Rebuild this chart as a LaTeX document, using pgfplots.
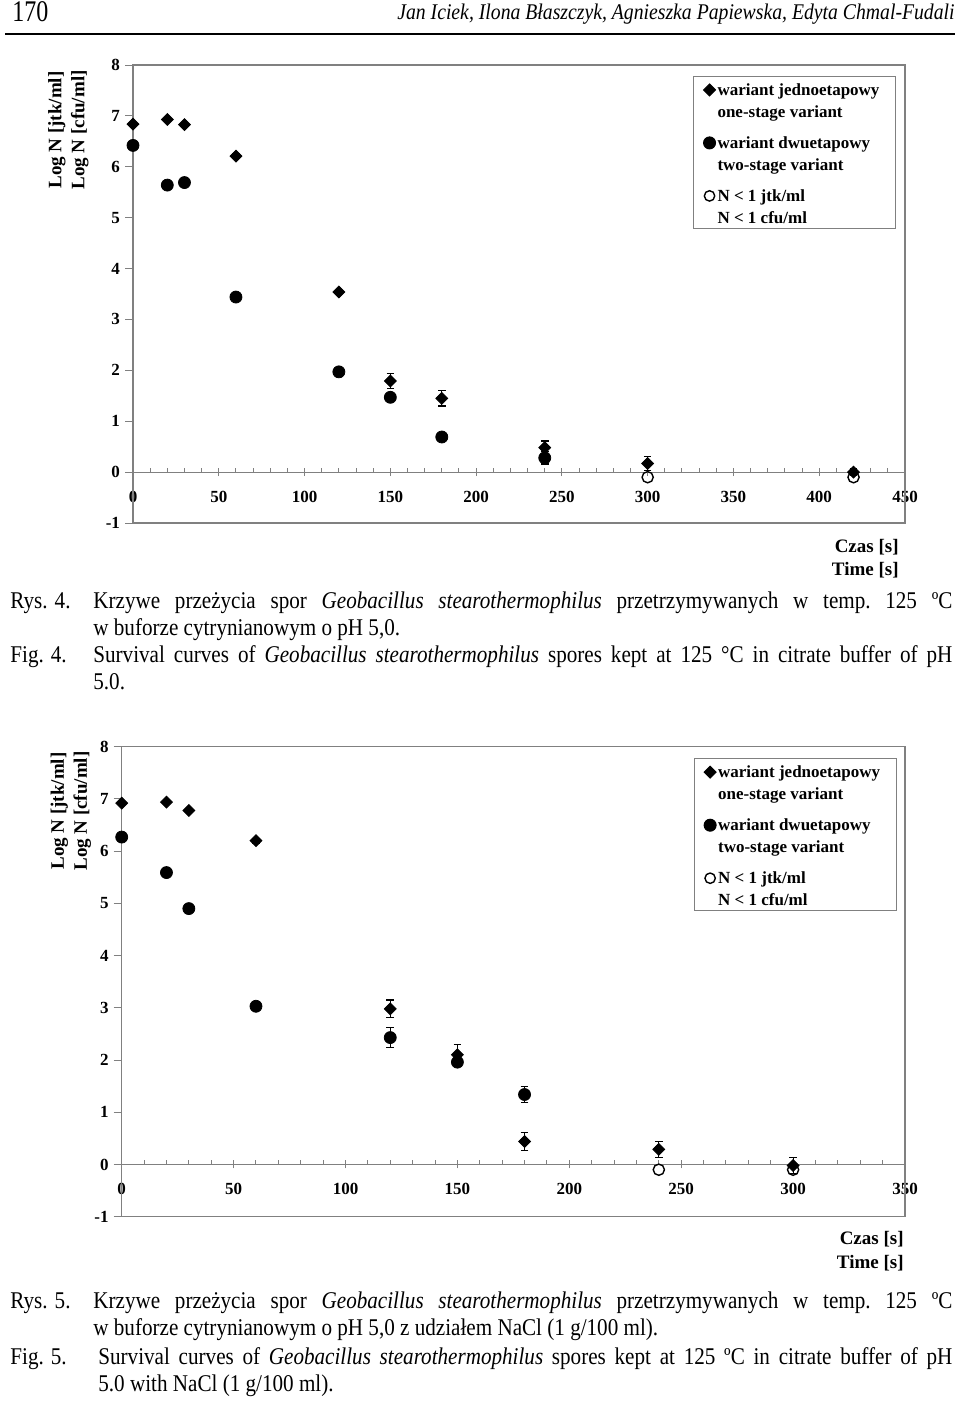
\documentclass[border=0pt]{standalone}
\usepackage{fontspec}
\setmainfont{Liberation Serif}
\newfontfamily\capfont[FakeStretch=0.88]{Liberation Serif}
\newfontfamily\numfont[FakeStretch=0.8]{Liberation Serif}
\usepackage{pgfplots}
\usepackage{pgfplotstable}
\pgfplotsset{compat=1.18}

% ---------- data (Fig. 4) ----------
\pgfplotstableread{
x y e
0 6.84 0
20 6.93 0
30 6.83 0
60 6.21 0.04
120 3.54 0
150 1.79 0.15
180 1.45 0.15
240 0.48 0.13
300 0.17 0.14
420 0.00 0.06
}\oneA
\pgfplotstableread{
x y e
0 6.42 0
20 5.64 0
30 5.69 0
60 3.44 0
120 1.97 0
150 1.47 0
180 0.69 0
240 0.28 0.12
}\twoA
\pgfplotstableread{
x y
300 -0.1
420 -0.1
}\openA
% ---------- data (Fig. 5) ----------
\pgfplotstableread{
x y e
0 6.92 0
20 6.94 0
30 6.78 0
60 6.20 0.05
120 2.98 0.17
150 2.10 0.20
180 0.44 0.17
240 0.29 0.15
300 -0.02 0.15
}\oneB
\pgfplotstableread{
x y e
0 6.27 0
20 5.59 0
30 4.90 0
60 3.03 0.05
120 2.43 0.19
150 1.96 0.05
180 1.34 0.15
}\twoB
\pgfplotstableread{
x y
240 -0.1
300 -0.1
}\openB

\pgfplotsset{
  surv/.style={
    scale only axis,
    axis x line=middle, axis y line=left,
    axis line style={-, draw=gray, line width=0.6pt},
    ymin=-1, ymax=8, ytick={-1,0,...,8},
    hide obscured x ticks=false, hide obscured y ticks=false,
    tick style={gray, line width=0.5pt},
    major tick length=4pt, minor tick length=2pt,
    tick align=center,
    minor x tick num=4,
    y tick style={xshift=-2pt},
    minor x tick style={yshift=1pt},
    ticklabel style={font=\fontsize{8.5}{10}\selectfont\bfseries, black},
    /pgf/number format/assume math mode=true,
    xticklabel style={yshift=-4pt},
    yticklabel style={xshift=-1pt},
    clip=false,
    legend style={draw=gray, line width=0.5pt,
      font=\fontsize{8.5}{11}\selectfont\bfseries,
      cells={anchor=base west},
      nodes={inner sep=1pt, text depth=11.5pt, text height=7.5pt},
      inner xsep=5pt, inner ysep=1pt, row sep=5.5pt,
      at={(1,1)}, anchor=north east},
    legend image code/.code={\draw[##1,yshift=2.8pt] plot coordinates {(3pt,0pt)};},
  },
  dia/.style={only marks, black, mark=square*, mark size=2.1pt,
    mark options={rotate=45, fill=black, draw=black},
    error bars/.cd, y dir=both, y explicit,
    error bar style={black, line width=0.6pt},
    error mark options={rotate=90, mark size=1.9pt, black, line width=0.6pt}},
  circ/.style={only marks, black, mark=*, mark size=3pt,
    mark options={fill=black, draw=black},
    error bars/.cd, y dir=both, y explicit,
    error bar style={black, line width=0.6pt},
    error mark options={rotate=90, mark size=1.9pt, black, line width=0.6pt}},
  opn/.style={only marks, black, mark=o, mark size=2.8pt,
    mark options={draw=black, line width=0.7pt}},
}

\newcommand{\legA}{\begin{tabular}[t]{@{}l@{\hspace{2pt}}}wariant jednoetapowy\\one-stage variant\end{tabular}}
\newcommand{\legB}{\begin{tabular}[t]{@{}l@{\hspace{2pt}}}wariant dwuetapowy\\two-stage variant\end{tabular}}
\newcommand{\legC}{\begin{tabular}[t]{@{}l@{\hspace{2pt}}}N < 1 jtk/ml\\N < 1 cfu/ml\end{tabular}}

\begin{document}
\begin{tikzpicture}
\path[use as bounding box] (0,0) rectangle (480pt,-701pt);

% ---------------- Fig. 4 ----------------
\begin{axis}[surv, at={(66.5pt,-261.5pt)}, anchor=south west,
  width=386pt, height=229pt, xmin=0, xmax=450, xtick={0,50,...,450},
  legend style={xshift=-4.5pt, yshift=-5.5pt}]
  \draw[gray, line width=0.6pt] (rel axis cs:0,0) rectangle (rel axis cs:1,1);
  \addlegendimage{only marks, mark=square*, mark size=2.1pt, mark options={rotate=45, fill=black, draw=black}}
  \addlegendentry{\legA}
  \addlegendimage{only marks, mark=*, mark size=3pt, mark options={fill=black, draw=black}}
  \addlegendentry{\legB}
  \addlegendimage{only marks, mark=o, mark size=2.6pt, mark options={draw=black, line width=0.7pt}}
  \addlegendentry{\legC}
  \addplot[forget plot, dia] table[x=x, y=y, y error=e] {\oneA};
  \addplot[forget plot, circ] table[x=x, y=y, y error=e] {\twoA};
  \addplot[forget plot, opn] table[x=x, y=y] {\openA};
\end{axis}

% ---------------- Fig. 5 ----------------
\begin{axis}[surv, at={(60.85pt,-608.35pt)}, anchor=south west,
  width=391.65pt, height=235pt, xmin=0, xmax=350, xtick={0,50,...,350},
  legend style={xshift=-4.2pt, yshift=-5.8pt}]
  \draw[gray, line width=0.6pt] (rel axis cs:0,0) rectangle (rel axis cs:1,1);
  \addlegendimage{only marks, mark=square*, mark size=2.1pt, mark options={rotate=45, fill=black, draw=black}}
  \addlegendentry{\legA}
  \addlegendimage{only marks, mark=*, mark size=3pt, mark options={fill=black, draw=black}}
  \addlegendentry{\legB}
  \addlegendimage{only marks, mark=o, mark size=2.6pt, mark options={draw=black, line width=0.7pt}}
  \addlegendentry{\legC}
  \addplot[forget plot, dia] table[x=x, y=y, y error=e] {\oneB};
  \addplot[forget plot, circ] table[x=x, y=y, y error=e] {\twoB};
  \addplot[forget plot, opn] table[x=x, y=y] {\openB};
\end{axis}

\begin{scope}[x=0.5pt, y=-0.5pt]
  % header
  \node[anchor=base west, inner sep=0] at (12,22) {\numfont\fontsize{15}{17}\selectfont 170};
  \node[anchor=base east, inner sep=0] at (955,20) {\capfont\fontsize{11.2}{13}\selectfont\itshape Jan Iciek, Ilona Błaszczyk, Agnieszka Papiewska, Edyta Chmal-Fudali};
  \draw[line width=1.1pt] (5,34) -- (955,34);

  % y labels
  \node[rotate=90, align=center, inner sep=0, font=\fontsize{9.5}{11.5}\selectfont\bfseries] at (68.5,130) {Log N [jtk/ml]\\Log N [cfu/ml]};
  \node[rotate=90, align=center, inner sep=0, font=\fontsize{9.5}{11.5}\selectfont\bfseries] at (71,811) {Log N [jtk/ml]\\Log N [cfu/ml]};

  % x labels
  \node[anchor=base east, inner sep=0, font=\fontsize{9.5}{11}\selectfont\bfseries] at (899,552) {Czas [s]};
  \node[anchor=base east, inner sep=0, font=\fontsize{9.5}{11}\selectfont\bfseries] at (899,575) {Time [s]};
  \node[anchor=base east, inner sep=0, font=\fontsize{9.5}{11}\selectfont\bfseries] at (904,1244) {Czas [s]};
  \node[anchor=base east, inner sep=0, font=\fontsize{9.5}{11}\selectfont\bfseries] at (904,1268) {Time [s]};

  % captions Fig. 4
  \node[anchor=base west, inner sep=0] at (10,608) {\capfont\fontsize{12}{13.5}\selectfont Rys. 4.};
  \node[anchor=base west, inner sep=0] at (93,608) {\parbox[t]{429.5pt}{\capfont\fontsize{12}{13.5}\selectfont Krzywe przeżycia spor \textit{Geobacillus stearothermophilus} przetrzymywanych w temp.\ 125 ºC\linebreak w buforze cytrynianowym o pH 5,0.}};
  \node[anchor=base west, inner sep=0] at (10,662) {\capfont\fontsize{12}{13.5}\selectfont Fig. 4.};
  \node[anchor=base west, inner sep=0] at (93,662) {\parbox[t]{429.5pt}{\capfont\fontsize{12}{13.5}\selectfont Survival curves of \textit{Geobacillus stearothermophilus} spores kept at 125 °C in citrate buffer of pH\linebreak 5.0.}};

  % captions Fig. 5
  \node[anchor=base west, inner sep=0] at (10,1308) {\capfont\fontsize{12}{13.5}\selectfont Rys. 5.};
  \node[anchor=base west, inner sep=0] at (93,1308) {\parbox[t]{429.5pt}{\capfont\fontsize{12}{13.5}\selectfont Krzywe przeżycia spor \textit{Geobacillus stearothermophilus} przetrzymywanych w temp.\ 125 ºC\linebreak w buforze cytrynianowym o pH 5,0 z udziałem NaCl (1 g/100 ml).}};
  \node[anchor=base west, inner sep=0] at (10,1364) {\capfont\fontsize{12}{13.5}\selectfont Fig. 5.};
  \node[anchor=base west, inner sep=0] at (98,1364) {\parbox[t]{427pt}{\capfont\fontsize{12}{13.5}\selectfont Survival curves of \textit{Geobacillus stearothermophilus} spores kept at 125 ºC in citrate buffer of pH\linebreak 5.0 with NaCl (1 g/100 ml).}};
\end{scope}
\end{tikzpicture}
\end{document}
